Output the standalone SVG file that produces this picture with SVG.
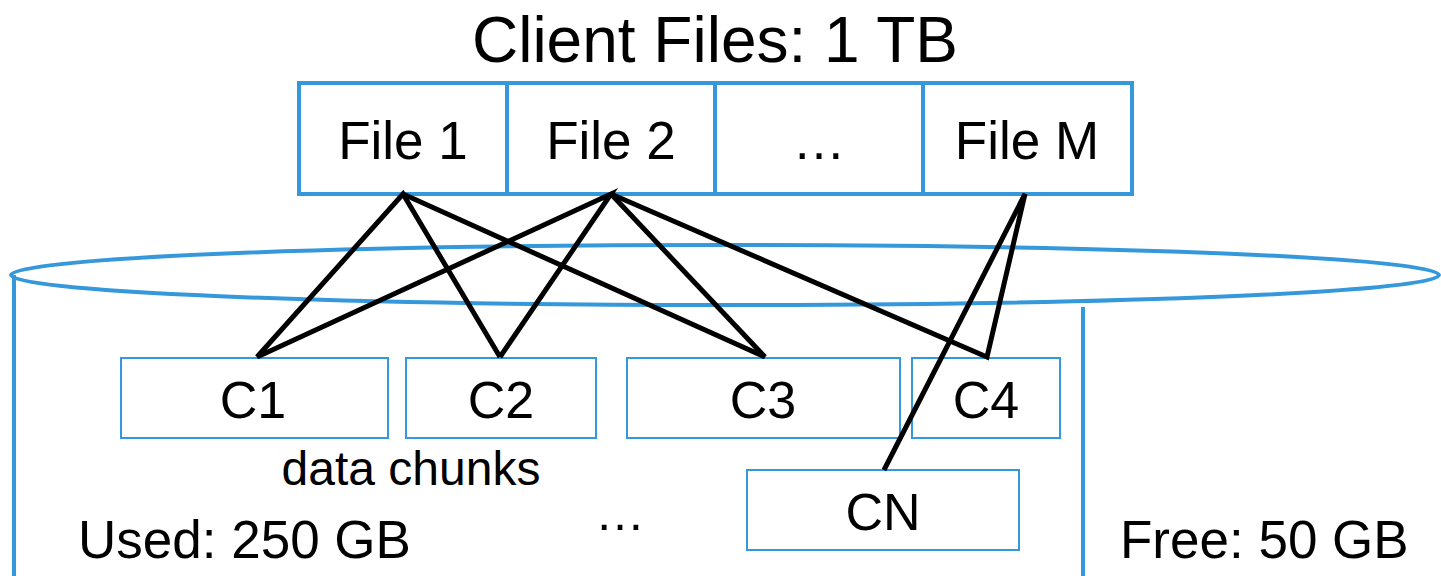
<svg xmlns="http://www.w3.org/2000/svg" width="1441" height="576" viewBox="0 0 1441 576">
<style>
.t{font-family:"Liberation Sans",Arial,sans-serif;fill:#000}
.blue{fill:none;stroke:#3498DB;stroke-width:4}
.chunk{fill:#fff;stroke:#3498DB;stroke-width:2}
.ln{stroke:#000;stroke-width:5;fill:none;stroke-linejoin:miter}
</style>
<rect width="1441" height="576" fill="#fff"/>
<g id="disk">
<ellipse class="blue" cx="725" cy="275" rx="714" ry="30"/>
<line class="blue" x1="14" y1="275" x2="14" y2="576"/>
<line class="blue" x1="1083" y1="307" x2="1083" y2="576"/>
<text class="t" x="78" y="558" font-size="53">Used: 250 GB</text>
<text class="t" x="1120" y="558" font-size="53">Free: 50 GB</text>
<text class="t" x="620" y="530" font-size="50" text-anchor="middle">…</text>
<text class="t" x="411" y="485" font-size="48" text-anchor="middle">data chunks</text>
</g>
<g id="title"><text class="t" x="715" y="62" font-size="64" text-anchor="middle">Client Files: 1 TB</text></g>
<g id="file1"><rect class="blue" x="299" y="83" width="208" height="111"/><text class="t" x="403" y="159" font-size="53" text-anchor="middle">File 1</text></g>
<g id="file2"><rect class="blue" x="507" y="83" width="208" height="111"/><text class="t" x="611" y="159" font-size="53" text-anchor="middle">File 2</text></g>
<g id="fileDots"><rect class="blue" x="715" y="83" width="208" height="111"/><text class="t" x="819" y="159" font-size="53" text-anchor="middle">…</text></g>
<g id="fileM"><rect class="blue" x="923" y="83" width="209" height="111"/><text class="t" x="1027" y="159" font-size="53" text-anchor="middle">File M</text></g>
<g id="c1"><rect class="chunk" x="121" y="358" width="267" height="80"/><text class="t" x="253" y="418" font-size="52" text-anchor="middle">C1</text></g>
<g id="c2"><rect class="chunk" x="406" y="358" width="190" height="80"/><text class="t" x="501" y="418" font-size="52" text-anchor="middle">C2</text></g>
<g id="c3"><rect class="chunk" x="627" y="358" width="273" height="80"/><text class="t" x="763" y="418" font-size="52" text-anchor="middle">C3</text></g>
<g id="c4"><rect class="chunk" x="912" y="358" width="148" height="80"/><text class="t" x="986" y="418" font-size="52" text-anchor="middle">C4</text></g>
<g id="cn"><rect class="chunk" x="747" y="470" width="272" height="80"/><text class="t" x="883" y="530" font-size="52" text-anchor="middle">CN</text></g>
<g id="connectors">
<polyline class="ln" points="257,357 403,194 500,357"/>
<line class="ln" x1="403" y1="194" x2="765" y2="357"/>
<polyline class="ln" points="257,357 611,194 500,357"/>
<line class="ln" x1="611" y1="194" x2="765" y2="357"/>
<polyline class="ln" points="611,194 987,357 1025,194 884,470"/>
</g>
</svg>
